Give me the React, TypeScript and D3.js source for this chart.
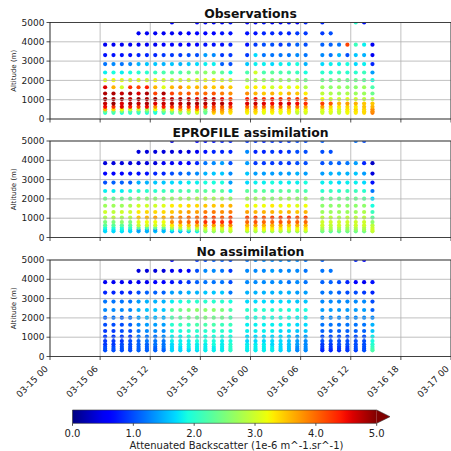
import React from "react";
import * as d3 from "d3";

// hours after 03-15 00:00 of each profile
const HOURS = [6.6, 7.6, 8.6, 9.6, 10.6, 11.6, 12.6, 13.6, 14.6, 15.6, 16.6, 17.6, 18.6, 19.6, 20.6, 21.6,
  23.6, 24.6, 25.6, 26.6, 27.6, 28.6, 29.6, 30.6,
  32.6, 33.6, 34.6, 35.6, 36.6, 37.6, 38.6];
// altitude of each level (m), top first
const LEVELS = [5000, 4440, 3850, 3310, 2845, 2410, 2010, 1645, 1320, 1030, 800, 630, 500, 400, 320];
const Y_TICKS = [0, 1000, 2000, 3000, 4000, 5000];
const CBAR_TICKS = [0, 1, 2, 3, 4, 5];
const TITLES = ["Observations", "EPROFILE assimilation", "No assimilation"];

const n = null;
// attenuated backscatter, one row per level, one value per profile
const OBS = [
  [n,n,n,n, n,n,n,n, 0.6,n,n,0.6,0.6,0.6,0.6,0.7, 0.6,0.6,0.7,0.6,0.6,0.7,0.6,0.8, 0.8,n,n,n,2.0,0.7, n],
  [n,n,n,n, 0.5,0.5,0.5,0.5, 0.5,0.5,0.6,0.6,0.6,0.6,0.7,0.7, 0.7,0.7,0.8,0.8,0.8,0.8,0.9,0.9, 0.9,1.0,n,n,n,n, n],
  [0.5,0.5,0.5,0.5, 0.5,0.5,0.5,0.6, 0.6,0.6,0.6,0.6,0.7,0.7,0.7,0.8, 0.7,0.9,1.0,1.0,0.9,1.0,1.1,1.0, 1.1,1.1,1.2,4.2,2.1,1.8, 0.5],
  [0.7,0.7,0.7,0.7, 0.8,0.8,0.8,0.9, 0.9,0.9,1.0,1.0,1.4,1.3,0.9,0.9, 0.9,1.7,1.2,1.2,1.2,1.2,1.3,1.2, 1.3,1.2,1.5,1.0,1.6,1.5, 0.5],
  [1.2,1.3,1.2,1.3, 1.5,1.6,1.6,1.5, 1.6,1.5,1.6,1.7,1.8,1.8,1.1,1.0, 1.6,1.8,1.8,1.7,1.8,1.8,1.9,1.5, 1.7,1.8,1.8,1.9,1.7,1.8, 0.8],
  [1.8,1.9,1.8,1.9, 2.0,2.0,2.1,2.2, 2.3,2.2,2.4,2.5,2.6,2.6,2.3,1.9, 2.2,3.0,2.2,2.3,2.2,2.2,2.1,1.9, 2.0,2.0,2.1,2.0,2.0,2.1, 1.4],
  [3.1,3.2,3.1,3.0, 3.1,3.0,3.2,3.0, 2.9,3.0,3.0,3.1,3.1,3.3,3.0,3.0, 2.7,2.8,2.7,2.6,2.7,2.6,2.7,2.4, 2.4,2.4,2.5,2.4,2.4,2.3, 1.9],
  [4.6,3.6,3.0,4.3, 4.2,4.4,3.6,3.1, 3.6,3.8,3.5,3.6,3.6,3.5,3.6,3.5, 3.2,3.3,3.2,3.0,3.2,3.1,3.2,2.8, 2.7,2.6,2.7,2.6,2.6,2.7, 2.2],
  [4.8,4.8,4.7,4.8, 4.6,4.8,4.2,4.8, 4.2,4.0,4.1,4.0,4.0,4.1,3.9,3.8, 3.8,3.6,3.5,3.6,3.4,3.6,3.5,3.3, 2.9,2.8,2.7,2.8,2.7,2.7, 2.4],
  [4.9,4.8,4.9,4.7, 4.9,4.8,4.9,4.6, 4.7,4.8,4.7,4.6,4.7,4.7,4.5,4.2, 4.4,4.5,4.3,4.4,4.3,4.2,4.3,4.0, 3.2,3.0,3.0,3.1,3.0,2.9, 2.9],
  [4.7,4.9,4.6,4.8, 4.7,4.8,4.6,4.7, 4.8,4.7,4.8,4.8,4.8,4.7,4.8,4.6, 4.6,4.7,4.6,4.5,4.6,4.6,4.5,4.3, 4.2,4.1,3.6,3.7,3.6,3.5, 3.5],
  [4.5,4.3,4.6,4.4, 4.2,4.5,3.8,4.4, 4.3,4.2,4.3,4.4,4.3,4.2,4.1,4.2, 4.0,4.1,4.0,3.9,4.0,3.8,3.9,3.7, 3.7,3.4,3.3,3.4,3.3,3.5, 3.6],
  [3.6,3.4,3.2,3.0, 3.0,2.8,3.2,2.9, 3.3,3.6,3.5,3.8,2.6,3.9,3.8,3.5, 3.4,3.5,3.3,3.4,3.3,3.4,3.2,3.2, 3.1,3.2,3.0,3.3,3.4,3.4, 3.8],
  [2.4,2.3,2.5,2.2, 2.2,2.3,2.0,2.4, 2.6,2.8,3.0,3.2,2.4,3.6,3.6,3.4, 3.3,3.4,3.2,3.3,3.2,3.3,3.0,3.1, 3.0,3.1,3.0,3.2,3.3,3.4, 3.8],
  [2.0,2.1,1.9,2.0, 2.0,1.9,1.9,2.0, 2.2,2.4,2.6,2.9,2.3,3.4,3.5,3.3, 3.2,3.3,3.1,3.2,3.1,3.2,2.9,3.0, 3.0,3.0,2.9,3.2,3.3,3.4, 3.9],
];

const EPROF = [
  [n,n,n,n, n,n,n,n, 0.4,n,n,0.6,0.7,0.7,0.8,0.8, 0.9,0.9,0.8,0.9,0.9,0.9,1.0,1.0, 1.1,n,n,n,1.2,1.0, n],
  [n,n,n,n, 0.4,0.4,0.4,0.4, 0.4,0.4,0.4,0.5,0.7,0.8,0.8,0.8, 1.3,0.8,0.8,0.9,0.8,0.9,1.0,1.0, 1.0,1.0,n,n,n,n, n],
  [0.4,0.4,0.4,0.4, 0.4,0.4,0.4,0.5, 0.5,0.6,0.6,0.8,1.2,1.3,1.4,1.0, 1.4,0.9,0.9,0.9,0.9,0.9,1.0,1.0, 1.0,1.1,1.1,1.2,1.4,0.8, 0.3],
  [0.6,0.6,0.6,0.7, 0.7,0.7,0.8,0.8, 1.0,1.1,1.2,1.3,1.5,1.6,1.6,1.3, 1.6,1.4,1.4,1.4,1.4,1.4,1.5,1.4, 1.4,1.5,1.5,1.5,1.6,1.4, 0.4],
  [1.0,1.1,1.1,1.1, 1.5,1.5,1.6,1.6, 1.7,1.7,1.8,1.8,1.9,1.9,1.9,1.4, 1.7,1.8,1.8,1.9,1.8,1.8,1.8,1.9, 1.8,1.8,1.7,1.8,1.8,1.7, 0.7],
  [1.8,1.8,1.8,1.9, 2.0,2.0,2.0,2.1, 2.1,2.2,2.2,2.3,2.3,2.3,2.3,1.8, 2.3,2.3,2.3,2.2,2.3,2.3,2.3,2.2, 2.0,2.1,2.0,2.1,2.1,2.0, 1.2],
  [2.4,2.4,2.4,2.4, 2.6,2.6,2.6,2.6, 2.7,2.7,2.7,2.8,2.8,2.8,2.8,2.7, 2.7,2.7,2.7,2.6,2.7,2.7,2.6,2.7, 2.4,2.4,2.4,2.4,2.4,2.3, 1.7],
  [2.7,2.7,2.7,2.8, 3.0,3.0,3.0,3.1, 3.3,3.3,3.4,3.4,3.5,3.5,3.5,3.6, 3.2,3.2,3.2,3.3,3.2,3.2,3.1,3.2, 2.6,2.6,2.6,2.6,2.6,2.6, 1.9],
  [3.0,2.9,3.0,3.0, 3.3,3.4,3.4,3.4, 3.5,3.6,3.7,3.7,3.9,3.9,3.8,3.9, 3.7,3.6,3.6,3.6,3.5,3.6,3.5,3.6, 2.7,2.7,2.7,2.7,2.7,2.8, 2.1],
  [2.8,2.9,2.8,2.9, 3.5,3.6,3.7,3.6, 3.8,3.9,4.0,4.0,4.2,4.2,4.1,4.2, 4.2,4.2,4.1,4.2,4.2,4.3,4.1,4.2, 2.9,2.9,2.8,2.9,2.9,2.9, 2.3],
  [2.5,2.5,2.6,2.5, 3.1,3.2,3.2,3.2, 3.8,3.9,4.0,4.1,4.3,4.3,4.3,4.3, 4.0,4.1,4.0,4.0,4.1,4.0,4.0,4.0, 3.0,3.0,3.0,3.0,3.0,3.0, 2.6],
  [2.3,2.3,2.3,2.3, 2.9,3.0,3.0,3.0, 3.3,3.4,3.5,3.6,3.7,3.7,3.7,3.8, 3.6,3.7,3.6,3.6,3.6,3.5,3.6,3.6, 3.0,2.9,3.0,2.9,3.0,3.0, 2.9],
  [1.9,1.9,1.9,2.0, 2.3,2.2,2.3,2.3, 2.8,2.9,3.0,3.0,3.1,3.1,3.1,3.2, 3.3,3.2,3.3,3.3,3.3,3.2,3.2,3.3, 2.8,2.8,2.8,2.7,2.8,2.8, 3.0],
  [1.7,1.7,1.8,1.7, 1.4,1.5,1.4,1.5, 1.9,2.0,2.2,2.4,2.8,2.9,2.9,3.0, 3.1,3.0,3.1,3.1,3.0,3.0,3.1,3.1, 2.6,2.6,2.6,2.6,2.6,2.7, 3.0],
  [1.7,1.7,1.7,1.7, 1.5,1.5,1.6,1.6, 1.5,1.5,1.6,1.8,2.5,2.6,2.6,2.8, 2.7,2.7,2.6,2.7,2.7,2.6,2.7,2.7, 2.4,2.3,2.3,2.4,2.4,2.4, 2.9],
];

const NOASM = [
  [n,n,n,n, n,n,n,n, 0.5,n,n,0.9,1.0,1.1,1.1,1.0, 1.2,1.3,1.3,1.3,1.3,1.3,1.3,1.2, 1.1,n,n,n,0.8,0.6, n],
  [n,n,n,n, 0.4,0.4,0.4,0.4, 0.5,0.5,0.6,1.0,1.3,1.3,1.2,0.9, 1.3,1.3,1.3,1.4,1.3,1.3,1.3,1.2, 1.2,1.2,n,n,n,n, n],
  [0.5,0.5,0.5,0.5, 0.5,0.5,0.6,0.6, 0.7,0.8,0.9,1.1,1.2,1.2,1.2,1.0, 1.3,1.3,1.3,1.3,1.3,1.2,1.3,1.2, 1.1,1.1,1.0,0.8,0.6,0.5, 0.7],
  [0.8,0.8,0.8,0.8, 1.0,1.1,1.1,1.1, 1.4,1.4,1.5,1.5,1.6,1.6,1.6,1.2, 1.5,1.5,1.5,1.5,1.5,1.5,1.4,1.4, 1.2,1.2,1.1,1.0,1.0,0.9, 0.8],
  [1.2,1.2,1.2,1.2, 1.4,1.5,1.5,1.5, 1.8,1.9,2.0,2.0,2.0,2.0,2.0,1.9, 1.7,1.7,1.7,1.7,1.7,1.7,1.6,1.6, 1.3,1.3,1.3,1.3,1.3,1.3, 1.0],
  [1.3,1.3,1.3,1.3, 1.5,1.6,1.6,1.6, 2.3,2.4,2.5,2.6,2.6,2.6,2.5,2.2, 2.0,2.0,2.0,2.0,2.0,1.9,1.9,1.9, 1.4,1.4,1.4,1.4,1.4,1.4, 1.1],
  [1.1,1.2,1.1,1.2, 1.4,1.5,1.5,1.5, 2.2,2.3,2.4,2.4,2.5,2.4,2.4,2.2, 1.9,1.9,1.9,1.9,1.9,1.9,1.8,1.8, 1.3,1.3,1.3,1.3,1.3,1.3, 1.3],
  [1.0,1.0,1.0,1.1, 1.3,1.4,1.4,1.4, 2.0,2.1,2.1,2.2,2.2,2.2,2.1,2.1, 1.8,1.8,1.8,1.8,1.8,1.8,1.7,1.7, 1.2,1.2,1.2,1.2,1.2,1.2, 1.5],
  [0.9,0.9,1.0,1.0, 1.2,1.3,1.3,1.3, 1.9,1.9,2.0,2.0,2.0,2.0,2.0,1.9, 1.8,1.8,1.8,1.8,1.7,1.7,1.6,1.6, 1.1,1.1,1.1,1.1,1.1,1.1, 1.6],
  [0.9,0.9,0.9,0.9, 1.2,1.2,1.2,1.3, 1.8,1.8,1.9,1.9,1.9,1.9,1.9,1.9, 1.7,1.7,1.7,1.7,1.7,1.6,1.4,1.4, 1.0,1.0,1.0,1.0,1.0,1.0, 1.8],
  [0.9,0.9,0.9,1.0, 1.1,1.2,1.2,1.2, 1.8,1.8,1.8,1.9,1.9,1.9,1.8,1.9, 1.7,1.7,1.7,1.7,1.7,1.6,1.4,1.3, 1.0,1.0,1.0,1.0,1.0,1.0, 1.9],
  [0.9,0.9,1.0,1.0, 1.1,1.1,1.2,1.2, 1.7,1.8,1.8,1.8,1.8,1.9,1.8,2.0, 1.8,1.8,1.8,1.7,1.7,1.6,1.4,1.3, 0.9,0.9,1.0,1.0,1.0,1.0, 2.0],
  [1.0,1.0,1.0,1.0, 1.1,1.1,1.1,1.2, 1.7,1.7,1.8,1.8,1.8,1.8,1.8,2.0, 1.8,1.8,1.8,1.8,1.7,1.6,1.3,1.3, 0.9,0.9,0.9,0.9,1.0,1.0, 2.1],
  [1.0,1.0,1.0,1.0, 1.1,1.1,1.1,1.1, 1.7,1.7,1.7,1.8,1.8,1.8,1.8,2.0, 1.8,1.8,1.8,1.8,1.7,1.6,1.3,1.3, 0.8,0.8,0.9,0.9,1.0,1.0, 2.2],
  [1.0,1.0,1.0,1.0, 1.1,1.1,1.1,1.1, 1.7,1.7,1.7,1.7,1.8,1.8,1.8,2.0, 1.8,1.8,1.8,1.8,1.7,1.6,1.3,1.3, 0.8,0.8,0.8,0.9,0.9,1.0, 2.2],
];

const PANELS = [OBS, EPROF, NOASM];

// matplotlib "jet"
const jr = d3.scaleLinear([0, 0.35, 0.66, 0.89, 1], [0, 0, 1, 1, 0.5]).clamp(true);
const jg = d3.scaleLinear([0, 0.125, 0.375, 0.64, 0.91, 1], [0, 0, 1, 1, 0, 0]).clamp(true);
const jb = d3.scaleLinear([0, 0.11, 0.34, 0.65, 1], [0.5, 1, 1, 0, 0]).clamp(true);
const jet = (t: number) => d3.rgb(jr(t) * 255, jg(t) * 255, jb(t) * 255).formatHex();
const norm = d3.scaleLinear([0, 5], [0, 1]).clamp(true);

const W = 451, H = 451;
const left = 50, right = 451;
const tops = [22.5, 141, 260];
const ph = 96.5;
const t0 = new Date(2024, 2, 15, 0);
const t1 = new Date(2024, 2, 17, 0);
const FONT = "DejaVu Sans, sans-serif";

const Panel = ({ idx }: { idx: number }) => {
  const top = tops[idx];
  const data = PANELS[idx];
  const x = d3.scaleTime().domain([t0, t1]).range([left, right]);
  const y = d3.scaleLinear().domain([0, 5000]).range([top + ph, top]);
  const xt = x.ticks(d3.timeHour.every(6)!);
  const fmt = d3.timeFormat("%m-%d %H");
  const pts: { cx: number; cy: number; v: number }[] = [];
  HOURS.forEach((h, j) => {
    const d = new Date(t0.getTime() + h * 3600e3);
    for (let i = LEVELS.length - 1; i >= 0; i--) {
      const v = data[i][j];
      if (v == null) continue;
      pts.push({ cx: x(d), cy: y(LEVELS[i]), v });
    }
  });
  const bottom = top + ph;
  return (
    <g>
      <clipPath id={"clip" + idx}>
        <rect x={left} y={top} width={right - left} height={ph} />
      </clipPath>
      <g clipPath={`url(#clip${idx})`}>
        {pts.map((p, k) => (
          <circle key={k} cx={p.cx} cy={p.cy} r={2.1} fill={jet(norm(p.v))} />
        ))}
      </g>
      {Y_TICKS.map((t) => (
        <line key={"gy" + t} x1={left} x2={right} y1={y(t)} y2={y(t)} stroke="#b0b0b0" strokeWidth={0.8} />
      ))}
      {xt.map((t, k) => (
        <line key={"gx" + k} x1={x(t)} x2={x(t)} y1={top} y2={bottom} stroke="#b0b0b0" strokeWidth={0.8} />
      ))}
      <rect x={left} y={top} width={right - left} height={ph} fill="none" stroke="#222" strokeWidth={0.8} />
      {Y_TICKS.map((t) => (
        <g key={"ty" + t}>
          <line x1={left - 3.5} x2={left} y1={y(t)} y2={y(t)} stroke="#222" strokeWidth={0.8} />
          <text x={left - 5.5} y={y(t)} dy="0.35em" textAnchor="end" fontSize={9} fontFamily={FONT} fill="#222">
            {t}
          </text>
        </g>
      ))}
      {xt.map((t, k) => (
        <line key={"tx" + k} x1={x(t)} x2={x(t)} y1={bottom} y2={bottom + 3.5} stroke="#222" strokeWidth={0.8} />
      ))}
      {idx === 2 &&
        xt.map((t, k) => (
          <text
            key={"lx" + k}
            transform={`translate(${x(t) - 1.5},${bottom + 13}) rotate(-45)`}
            textAnchor="end"
            fontSize={9}
            fontFamily={FONT}
            fill="#222"
          >
            {fmt(t)}
          </text>
        ))}
      <text x={(left + right) / 2} y={top - 4.5} textAnchor="middle" fontSize={12.4} fontWeight="bold" fontFamily={FONT} fill="#111">
        {TITLES[idx]}
      </text>
      <text
        transform={`translate(16,${top + ph / 2}) rotate(-90)`}
        textAnchor="middle"
        fontSize={7}
        fontFamily={FONT}
        fill="#222"
      >
        Altitude (m)
      </text>
    </g>
  );
};

const Colorbar = () => {
  const cx = d3.scaleLinear().domain([0, 5]).range([72.5, 376.7]);
  const y0 = 410, y1 = 423.3;
  const tip = 390;
  const stops = d3.range(0, 1.0001, 0.02);
  return (
    <g>
      <defs>
        <linearGradient id="jetgrad" x1="0" x2="1" y1="0" y2="0">
          {stops.map((s, i) => (
            <stop key={i} offset={s} stopColor={jet(s)} />
          ))}
        </linearGradient>
      </defs>
      <rect x={cx(0)} y={y0} width={cx(5) - cx(0)} height={y1 - y0} fill="url(#jetgrad)" />
      <path d={`M${cx(5)},${y0}L${tip},${(y0 + y1) / 2}L${cx(5)},${y1}Z`} fill={jet(1)} />
      <path
        d={`M${cx(0)},${y0}L${cx(5)},${y0}L${tip},${(y0 + y1) / 2}L${cx(5)},${y1}L${cx(0)},${y1}Z`}
        fill="none"
        stroke="#333"
        strokeWidth={0.6}
      />
      {CBAR_TICKS.map((t) => (
        <g key={t}>
          <line x1={cx(t)} x2={cx(t)} y1={y1} y2={y1 + 2.5} stroke="#222" strokeWidth={0.8} />
          <text x={cx(t)} y={436.5} textAnchor="middle" fontSize={10} fontFamily={FONT} fill="#222">
            {t.toFixed(1)}
          </text>
        </g>
      ))}
      <text x={236.5} y={449} textAnchor="middle" fontSize={10} fontFamily={FONT} fill="#222">
        Attenuated Backscatter (1e-6 m^-1.sr^-1)
      </text>
    </g>
  );
};

export default function App() {
  return (
    <svg
      width={W}
      height={H}
      style={{ position: "absolute", left: 0, top: 0, background: "#fff" }}
    >
      <rect width={W} height={H} fill="#fff" />
      {[0, 1, 2].map((i) => (
        <Panel key={i} idx={i} />
      ))}
      <Colorbar />
    </svg>
  );
}
